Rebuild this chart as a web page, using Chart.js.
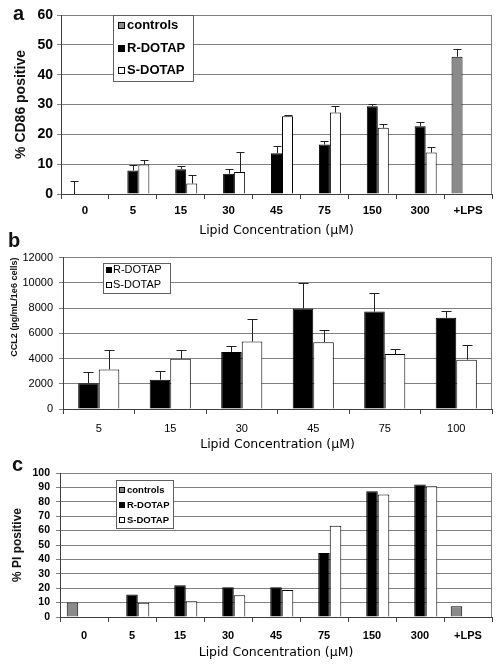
<!DOCTYPE html>
<html>
<head>
<meta charset="utf-8">
<script src="https://cdn.jsdelivr.net/npm/chart.js@4.4.1/dist/chart.umd.min.js"></script>
<style>
  body { margin: 0; background: #fff; width: 502px; height: 670px; position: relative; overflow: hidden; }
  .panel { position: absolute; left: 0; width: 502px; }
  .letter { position: absolute; font: bold 20px "Liberation Sans", Arial, sans-serif; line-height: 20px; color: #111; }
</style>
</head>
<body>
<div class="panel" style="top:0;height:245px"><canvas id="chartA"></canvas></div>
<div class="panel" style="top:245px;height:210px"><canvas id="chartB"></canvas></div>
<div class="panel" style="top:455px;height:215px"><canvas id="chartC"></canvas></div>
<div class="letter" style="left:13px;top:3px">a</div>
<div class="letter" style="left:8px;top:230px">b</div>
<div class="letter" style="left:12px;top:454px">c</div>
<script>
// panel a: % CD86 positive
const lipidGroups = ["0", "5", "15", "30", "45", "75", "150", "300", "+LPS"];
const cd86Controls = [0, null, null, null, null, null, null, null, 46];
const cd86ControlsErr = [4.4, null, null, null, null, null, null, null, 2.6];
const cd86R = [null, 7.9, 8.3, 6.8, 13.7, 16.6, 29.4, 22.7, null];
const cd86RErr = [null, 1.9, 1.1, 1.7, 2.5, 1.1, 0.9, 1.3, null];
const cd86S = [null, 9.9, 3.5, 7.4, 26.1, 27.3, 22.2, 13.9, null];
const cd86SErr = [null, 1.6, 2.8, 6.7, 0.5, 2.1, 1.4, 1.7, null];
const cd86Ticks = [0, 10, 20, 30, 40, 50, 60];

// panel b: CCL2
const ccl2Groups = ["5", "15", "30", "45", "75", "100"];
const ccl2R = [2050, 2320, 4510, 7960, 7720, 7230];
const ccl2RErr = [920, 680, 500, 2010, 1490, 570];
const ccl2S = [3130, 3990, 5350, 5300, 4360, 3910];
const ccl2SErr = [1540, 680, 1820, 990, 390, 1180];
const ccl2Ticks = [0, 2000, 4000, 6000, 8000, 10000, 12000];

// panel c: % PI positive
const piControls = [10, null, null, null, null, null, null, null, 7.5];
const piR = [null, 15.6, 22, 20.6, 20.6, 44.5, 87.4, 92, null];
const piS = [null, 9.9, 11, 15.1, 18.8, 63.3, 85, 90.8, null];
const piTicks = [0, 10, 20, 30, 40, 50, 60, 70, 80, 90, 100];

const SANS = '"Liberation Sans", Arial, sans-serif';
const GRID = "#808080";
const AXIS = "#404040";

const errorBars = {
  id: "errorBars",
  afterDatasetsDraw(chart, args, opts) {
    const { ctx } = chart;
    const y = chart.scales.y;
    chart.data.datasets.forEach((ds, i) => {
      if (!ds.errors) return;
      chart.getDatasetMeta(i).data.forEach((bar, j) => {
        const v = ds.data[j];
        const e = ds.errors[j];
        if (v == null || e == null) return;
        const x = Math.round(bar.x) + 0.5;
        const top = Math.round(y.getPixelForValue(v + e)) + 0.5;
        ctx.save();
        ctx.strokeStyle = opts.color || "#222";
        ctx.lineWidth = 1;
        ctx.beginPath();
        ctx.moveTo(x, bar.y);
        ctx.lineTo(x, top);
        ctx.moveTo(x - opts.cap / 2, top);
        ctx.lineTo(x + opts.cap / 2, top);
        ctx.stroke();
        ctx.restore();
      });
    });
  },
};

const frame = {
  id: "frame",
  beforeDatasetsDraw(chart) {
    const { ctx, chartArea } = chart;
    ctx.save();
    ctx.strokeStyle = GRID;
    ctx.lineWidth = 1;
    ctx.beginPath();
    const x = Math.round(chartArea.right) - 0.5;
    ctx.moveTo(x, chartArea.top);
    ctx.lineTo(x, chartArea.bottom);
    ctx.stroke();
    ctx.restore();
  },
};

const boxLegend = {
  id: "boxLegend",
  afterDraw(chart, args, o) {
    const { ctx } = chart;
    ctx.save();
    ctx.fillStyle = "#fff";
    ctx.strokeStyle = "#606060";
    ctx.lineWidth = 1;
    ctx.fillRect(o.left, o.top, o.width, o.height);
    ctx.strokeRect(o.left + 0.5, o.top + 0.5, o.width, o.height);
    ctx.font = o.font;
    ctx.textBaseline = "middle";
    chart.data.datasets.forEach((ds, i) => {
      const cy = o.top + o.rows[i];
      ctx.fillStyle = ds.backgroundColor;
      ctx.fillRect(o.swatchX, Math.round(cy - o.swatch / 2), o.swatch, o.swatch);
      ctx.strokeStyle = "#000";
      ctx.strokeRect(o.swatchX + 0.5, Math.round(cy - o.swatch / 2) + 0.5, o.swatch - 1, o.swatch - 1);
      ctx.fillStyle = "#000";
      ctx.fillText(ds.label, o.textX, cy);
    });
    ctx.restore();
  },
};

function barSet(label, data, color, errors) {
  return {
    label,
    data,
    errors,
    backgroundColor: color,
    borderColor: "#000",
    borderWidth: 1,
    borderSkipped: "start",
  };
}

function buildChart(id, p) {
  const ticks = p.yTicks;
  return new Chart(document.getElementById(id), {
    type: "bar",
    data: { labels: p.labels, datasets: p.datasets },
    plugins: [frame, errorBars, boxLegend],
    options: {
      responsive: true,
      maintainAspectRatio: false,
      animation: false,
      categoryPercentage: p.catPct,
      barPercentage: 1,
      layout: { padding: { top: p.top, right: 502 - p.right, left: 0, bottom: 0 } },
      plugins: {
        legend: { display: false },
        tooltip: { enabled: false },
        errorBars: { cap: p.cap, color: "#222" },
        boxLegend: p.legend,
      },
      scales: {
        x: {
          afterFit: (s) => { s.height = p.height - p.bottom; },
          grid: { offset: true, drawOnChartArea: false, drawTicks: true, tickLength: 5, color: AXIS },
          border: { display: true, color: AXIS },
          ticks: { color: "#000", font: p.xTickFont, padding: p.xTickPad, maxRotation: 0, autoSkip: false },
          title: {
            display: true,
            text: "Lipid Concentration (µM)",
            color: "#000",
            font: { family: '"DejaVu Sans", sans-serif', size: 12.5 },
            padding: { top: 0, bottom: p.xTitlePad },
          },
        },
        y: {
          min: ticks[0],
          max: ticks[ticks.length - 1],
          afterFit: (s) => { s.width = p.left; },
          afterBuildTicks: (s) => { s.ticks = ticks.map((v) => ({ value: v })); },
          grid: { color: GRID, tickLength: 4 },
          border: { display: true, color: AXIS },
          ticks: {
            color: "#000",
            font: p.yTickFont,
            padding: p.yTickPad,
            autoSkip: false,
            callback: (v) => String(v),
          },
          title: {
            display: true,
            text: p.yTitle,
            align: p.yTitleAlign || "center",
            color: "#111",
            font: p.yTitleFont,
            padding: { top: p.yTitlePad, bottom: 0 },
          },
        },
      },
    },
  });
}

buildChart("chartA", {
  labels: lipidGroups,
  datasets: [
    barSet("controls", cd86Controls, "#8a8a8a", cd86ControlsErr),
    barSet("R-DOTAP", cd86R, "#000000", cd86RErr),
    barSet("S-DOTAP", cd86S, "#ffffff", cd86SErr),
  ],
  yTicks: cd86Ticks,
  height: 245, top: 15, bottom: 194, left: 61, right: 492,
  catPct: 0.69, cap: 8,
  xTickFont: { family: SANS, size: 11.5, weight: "bold" }, xTickPad: 5, xTitlePad: 7,
  yTickFont: { family: SANS, size: 14, weight: "bold" }, yTickPad: 4,
  yTitle: "% CD86 positive", yTitleFont: { family: SANS, size: 14, weight: "bold" }, yTitlePad: 13,
  legend: { left: 113, top: 15, width: 80, height: 66, rows: [10, 33, 55], swatch: 7, swatchX: 118, textX: 127, font: "bold 13px " + SANS },
});

buildChart("chartB", {
  labels: ccl2Groups,
  datasets: [
    barSet("R-DOTAP", ccl2R, "#000000", ccl2RErr),
    barSet("S-DOTAP", ccl2S, "#ffffff", ccl2SErr),
  ],
  yTicks: ccl2Ticks,
  height: 210, top: 11, bottom: 164, left: 63, right: 492,
  catPct: 0.575, cap: 10,
  xTickFont: { family: SANS, size: 11 }, xTickPad: 8, xTitlePad: 3,
  yTickFont: { family: SANS, size: 11 }, yTickPad: 6,
  yTitle: "CCL2 (pg/mL/1e6 cells)", yTitleAlign: "end",
  yTitleFont: { family: SANS, size: 9, weight: "bold" }, yTitlePad: 9,
  legend: { left: 103, top: 18, width: 67, height: 30, rows: [7, 22], swatch: 6, swatchX: 106, textX: 113, font: "11px " + SANS },
});

buildChart("chartC", {
  labels: lipidGroups,
  datasets: [
    barSet("controls", piControls, "#8a8a8a"),
    barSet("R-DOTAP", piR, "#000000"),
    barSet("S-DOTAP", piS, "#ffffff"),
  ],
  yTicks: piTicks,
  height: 215, top: 18, bottom: 162, left: 60, right: 492,
  catPct: 0.72, cap: 8,
  xTickFont: { family: SANS, size: 11, weight: "bold" }, xTickPad: 7, xTitlePad: 10,
  yTickFont: { family: SANS, size: 10.5, weight: "bold" }, yTickPad: 6,
  yTitle: "% PI positive", yTitleFont: { family: SANS, size: 12, weight: "bold" }, yTitlePad: 10,
  legend: { left: 116, top: 25, width: 57, height: 48, rows: [10, 25, 40], swatch: 6, swatchX: 119, textX: 127, font: "bold 9.5px " + SANS },
});
</script>
</body>
</html>
